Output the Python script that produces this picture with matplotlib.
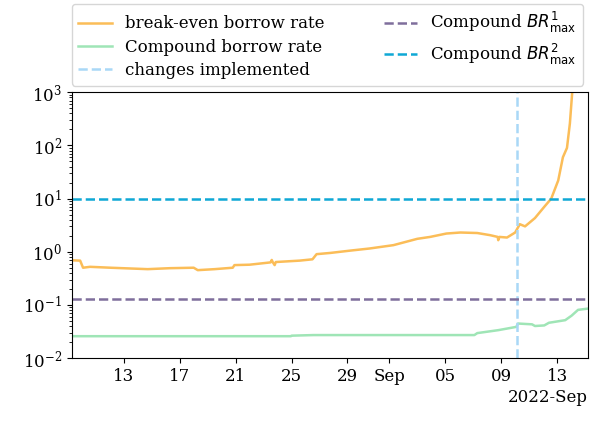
import pandas as pd
import matplotlib.pyplot as plt
import matplotlib.dates as mdates

plt.rcParams['font.family'] = 'DejaVu Serif'
plt.rcParams['font.size'] = 12

# break-even borrow rate
be_times = ['2022-08-09 07:00', '2022-08-09 21:00', '2022-08-10 02:00', '2022-08-10 14:00',
            '2022-08-12 01:00', '2022-08-14 17:00', '2022-08-16 07:00', '2022-08-18 00:00',
            '2022-08-18 07:00', '2022-08-19 12:00', '2022-08-20 19:00', '2022-08-20 22:00',
            '2022-08-22 00:00', '2022-08-23 12:00', '2022-08-23 14:00', '2022-08-23 16:00',
            '2022-08-23 19:00', '2022-08-23 21:00',
            '2022-08-25 14:00', '2022-08-26 12:00', '2022-08-26 19:00', '2022-08-27 19:00',
            '2022-08-29 05:00', '2022-08-30 14:00', '2022-09-01 07:00', '2022-09-03 00:00',
            '2022-09-03 22:00', '2022-09-05 02:00', '2022-09-06 02:00', '2022-09-07 07:00',
            '2022-09-08 05:00', '2022-09-08 18:00', '2022-09-08 19:00', '2022-09-08 21:00',
            '2022-09-09 10:00', '2022-09-10 00:00', '2022-09-10 08:00', '2022-09-10 17:00',
            '2022-09-11 10:00', '2022-09-12 02:00', '2022-09-12 14:00', '2022-09-13 02:00',
            '2022-09-13 10:00', '2022-09-13 17:00', '2022-09-13 22:00', '2022-09-14 02:00',
            '2022-09-14 07:00']
be_rate = [0.69, 0.68, 0.50, 0.52,
           0.50, 0.47, 0.49, 0.50,
           0.45, 0.47, 0.50, 0.56,
           0.57, 0.63, 0.70, 0.63,
           0.56, 0.64,
           0.68, 0.72, 0.90, 0.95,
           1.05, 1.15, 1.33, 1.75,
           1.90, 2.20, 2.30, 2.25,
           2.05, 1.90, 1.65, 1.90,
           1.85, 2.30, 3.30, 3.00,
           4.30, 7.00, 10.0, 22.0,
           60.0, 90.0, 260.0, 1000.0,
           2000.0]

# Compound borrow rate
cb_times = ['2022-08-09 07:00', '2022-08-24 23:00', '2022-08-25 00:00', '2022-08-26 14:00',
            '2022-09-07 02:00', '2022-09-07 07:00', '2022-09-08 19:00', '2022-09-10 02:00',
            '2022-09-10 05:00', '2022-09-11 05:00', '2022-09-11 10:00', '2022-09-12 02:00',
            '2022-09-12 10:00', '2022-09-13 14:00', '2022-09-14 01:00', '2022-09-14 12:00',
            '2022-09-15 05:00']
cb_rate = [0.0257, 0.0257, 0.0263, 0.0270,
           0.0270, 0.0294, 0.0334, 0.0385,
           0.0445, 0.0430, 0.0400, 0.0410,
           0.0460, 0.0515, 0.0627, 0.0805,
           0.0850]

br_max_1 = 0.13
br_max_2 = 10
change_time = '2022-09-10 03:20'

be_times = pd.to_datetime(be_times)
cb_times = pd.to_datetime(cb_times)

fig = plt.figure(figsize=(6.07, 4.23), dpi=100)
ax = fig.add_axes([0.1186, 0.1537, 0.85, 0.628])

ax.plot(be_times, be_rate, color='#fbbd58', lw=1.8, label='break-even borrow rate')
ax.plot(cb_times, cb_rate, color='#9fe5b6', lw=1.8, label='Compound borrow rate')
ax.axvline(pd.to_datetime(change_time), color='#a9d8f7', ls='--', lw=1.8,
           label='changes implemented')
ax.axhline(br_max_1, color='#7f6e9c', ls='--', lw=1.8, label=r'Compound $BR^1_{\max}$')
ax.axhline(br_max_2, color='#0fa8d5', ls='--', lw=1.8, label=r'Compound $BR^2_{\max}$')

ax.set_yscale('log')
ax.set_ylim(1e-2, 1e3)
ax.set_xlim(cb_times[0], cb_times[-1])

locator = mdates.DayLocator(bymonthday=[1, 5, 9, 13, 17, 21, 25, 29])
ax.xaxis.set_major_locator(locator)
ax.xaxis.set_major_formatter(mdates.ConciseDateFormatter(locator))

ax.legend(loc='lower center', bbox_to_anchor=(0.495, 1.025), ncol=2, fontsize=12,
          columnspacing=3.55, labelspacing=0.38, borderaxespad=0)

fig.savefig('out.png', dpi=100)
